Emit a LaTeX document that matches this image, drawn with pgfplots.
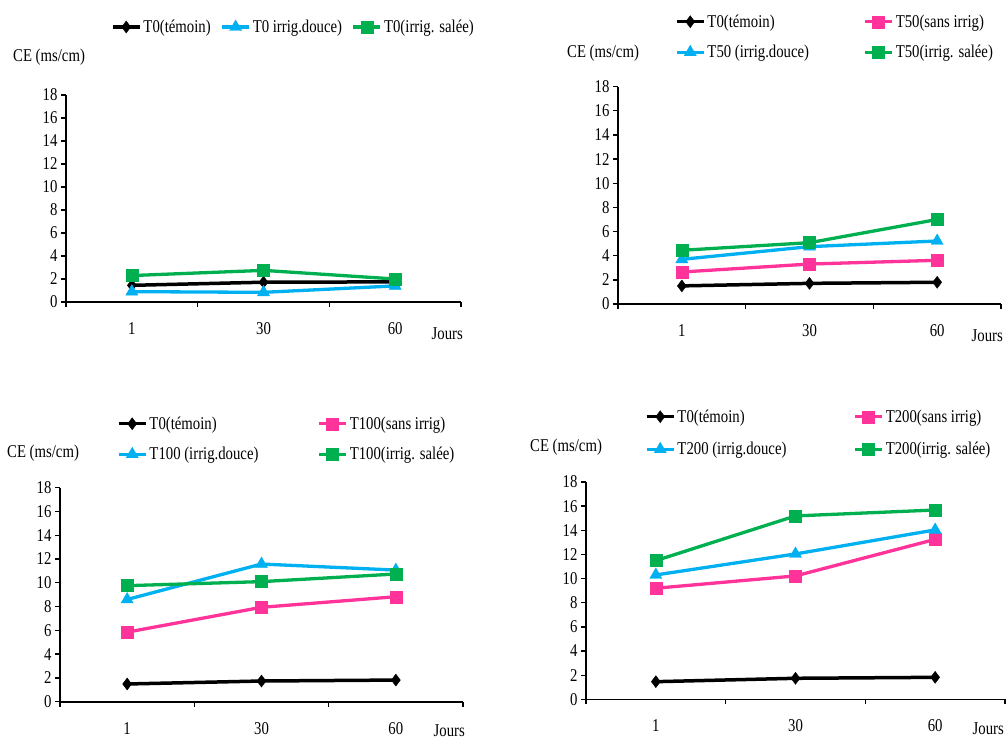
\documentclass[border=0pt]{standalone}
\usepackage{pgfplots}
\pgfplotsset{compat=1.18}
\usepackage{fontspec}
\setmainfont{Liberation Serif}[FakeStretch=0.82]
\definecolor{cblue}{RGB}{0,176,240}
\definecolor{cgreen}{RGB}{0,176,80}
\definecolor{cpink}{RGB}{255,51,153}
\newcommand{\ff}{\fontsize{18}{18}\selectfont}
\pgfplotsset{
 panel/.style={
  scale only axis,
  anchor=south west,
  xmin=-0.5, xmax=2.5, ymin=0, ymax=18,
  axis x line=bottom, axis y line=left,
  axis line style={-, line width=1.6pt},
  xtick={-0.5,0.5,1.5,2.5}, xticklabels={},
  extra x ticks={0,1,2}, extra x tick labels={1,30,60},
  extra x tick style={major tick length=0pt, xticklabel style={yshift=-17pt}},
  ytick={0,2,...,18},
  tick align=outside, major tick length=5pt,
  tick style={line width=1.3pt, black},
  /pgf/number format/assume math mode=true,
  tick label style={font=\ff},
  legend style={draw=none, fill=none, inner sep=0pt, outer sep=0pt, font=\ff, column sep=0pt, anchor=west},
  legend cell align=left,
  legend image code/.code={\draw[mark repeat=2,mark phase=2,##1] plot coordinates {(0pt,0pt) (13.5pt,0pt) (27pt,0pt)};},
  clip=false,
 },
 sblack/.style={black, line width=3.5pt, mark=diamond*, mark size=6pt, mark options={solid, line width=0.4pt}},
 spink/.style={cpink, line width=3.3pt, mark=square*, mark size=6pt, mark options={solid, line width=0.4pt}},
 sblue/.style={cblue, line width=3.3pt, mark=triangle*, mark size=7pt, mark options={solid, line width=0.4pt}},
 sgreen/.style={cgreen, line width=3.3pt, mark=square*, mark size=6pt, mark options={solid, line width=0.4pt}},
}
\begin{document}
\begin{tikzpicture}
\useasboundingbox (0pt,0pt) rectangle (1007pt,740pt);
% Panel 1
\begin{axis}[panel, at={(66pt,438pt)}, width=395pt, height=207pt,
  legend columns=3, legend style={at={(axis description cs:0.1139,1.3285)}}]
\addplot[sblack] coordinates {(0,1.45) (1,1.72) (2,1.75)};
\addlegendentry{\makebox[75pt][l]{T0(témoin)}}
\addplot[sblue] coordinates {(0,0.9) (1,0.84) (2,1.4)};
\addlegendentry{\makebox[97pt][l]{T0 irrig.douce)}}
\addplot[sgreen] coordinates {(0,2.3) (1,2.75) (2,2.0)};
\addlegendentry{T0(irrig. salée)}
\node[anchor=base east, inner sep=0pt, font=\ff, xshift=2pt, yshift=-38pt] at (rel axis cs:1,0) {Jours};
\node[anchor=base west, inner sep=0pt, font=\ff, xshift=-53pt, yshift=33pt] at (rel axis cs:0,1) {CE (ms/cm)};
\end{axis}
% Panel 2
\begin{axis}[panel, at={(618pt,436pt)}, width=383pt, height=217.3pt,
  legend columns=2, legend style={row sep=12.5pt, at={(axis description cs:0.1488,1.2287)}}]
\addplot[sblack] coordinates {(0,1.5) (1,1.71) (2,1.8)};
\addlegendentry{\makebox[154pt][l]{T0(témoin)}}
\addplot[spink] coordinates {(0,2.65) (1,3.31) (2,3.62)};
\addlegendentry{T50(sans irrig)}
\addplot[sblue] coordinates {(0,3.7) (1,4.75) (2,5.22)};
\addlegendentry{\makebox[154pt][l]{T50 (irrig.douce)}}
\addplot[sgreen] coordinates {(0,4.45) (1,5.08) (2,7.0)};
\addlegendentry{T50(irrig. salée)}
\node[anchor=base east, inner sep=0pt, font=\ff, xshift=2pt, yshift=-37pt] at (rel axis cs:1,0) {Jours};
\node[anchor=base west, inner sep=0pt, font=\ff, xshift=-51pt, yshift=29pt] at (rel axis cs:0,1) {CE (ms/cm)};
\end{axis}
% Panel 3
\begin{axis}[panel, at={(60pt,38.3pt)}, width=403pt, height=214pt,
  legend columns=2, legend style={row sep=12.5pt, at={(axis description cs:0.1414,1.2276)}}]
\addplot[sblack] coordinates {(0,1.49) (1,1.74) (2,1.82)};
\addlegendentry{\makebox[166pt][l]{T0(témoin)}}
\addplot[spink] coordinates {(0,5.85) (1,7.94) (2,8.83)};
\addlegendentry{T100(sans irrig)}
\addplot[sblue] coordinates {(0,8.6) (1,11.58) (2,11.07)};
\addlegendentry{\makebox[166pt][l]{T100 (irrig.douce)}}
\addplot[sgreen] coordinates {(0,9.76) (1,10.1) (2,10.74)};
\addlegendentry{T100(irrig. salée)}
\node[anchor=base east, inner sep=0pt, font=\ff, xshift=2pt, yshift=-34.5pt] at (rel axis cs:1,0) {Jours};
\node[anchor=base west, inner sep=0pt, font=\ff, xshift=-53pt, yshift=30pt] at (rel axis cs:0,1) {CE (ms/cm)};
\end{axis}
% Panel 4
\begin{axis}[panel, at={(586pt,40.7pt)}, width=419pt, height=217.3pt,
  legend columns=2, legend style={row sep=14.5pt, at={(axis description cs:0.1408,1.2255)}}]
\addplot[sblack] coordinates {(0,1.46) (1,1.74) (2,1.82)};
\addlegendentry{\makebox[174pt][l]{T0(témoin)}}
\addplot[spink] coordinates {(0,9.2) (1,10.22) (2,13.25)};
\addlegendentry{T200(sans irrig)}
\addplot[sblue] coordinates {(0,10.3) (1,12.04) (2,14.03)};
\addlegendentry{\makebox[174pt][l]{T200 (irrig.douce)}}
\addplot[sgreen] coordinates {(0,11.49) (1,15.19) (2,15.68)};
\addlegendentry{T200(irrig. salée)}
\node[anchor=base east, inner sep=0pt, font=\ff, xshift=-1pt, yshift=-35pt] at (rel axis cs:1,0) {Jours};
\node[anchor=base west, inner sep=0pt, font=\ff, xshift=-56pt, yshift=31pt] at (rel axis cs:0,1) {CE (ms/cm)};
\end{axis}
\end{tikzpicture}
\end{document}
